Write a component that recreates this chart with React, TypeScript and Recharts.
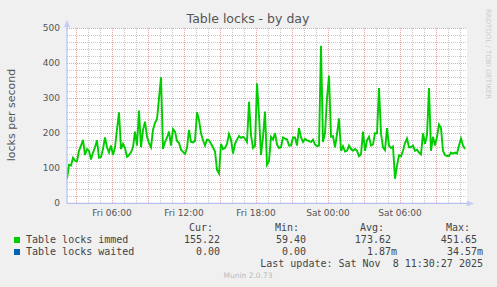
import React from "react";
import { LineChart, Line, XAxis, YAxis, CartesianGrid, ReferenceLine } from "recharts";

// samples every 10 minutes starting Fri 02:15
const STEP_MIN = 10;

const immed = [
  70, 110, 108, 130, 122, 120, 150, 165, 181, 138,
  155, 150, 125, 145, 160, 180, 130, 132, 155, 188,
  160, 145, 165, 138, 160, 212, 260, 155, 170, 158,
  133, 138, 146, 160, 205, 165, 265, 160, 210, 233,
  190, 172, 160, 210, 230, 240, 300, 360, 155, 175,
  188, 205, 165, 212, 205, 178, 172, 153, 147, 141,
  158, 210, 175, 174, 178, 260, 238, 200, 180, 165,
  182, 180, 170, 160, 148, 95, 85, 170, 155, 158,
  170, 198, 182, 142, 170, 182, 192, 187, 190, 185,
  175, 290, 195, 158, 165, 343, 250, 138, 190, 262,
  110, 120, 190, 182, 200, 168, 158, 160, 188, 185,
  183, 165, 165, 188, 188, 165, 215, 188, 175, 184,
  180, 178, 175, 182, 168, 163, 165, 450, 175, 200,
  300, 365, 190, 192, 160, 198, 243, 150, 163, 148,
  150, 165, 155, 150, 155, 150, 135, 140, 205, 150,
  180, 190, 165, 168, 200, 200, 329, 200, 160, 152,
  215, 165, 158, 162, 70, 108, 137, 134, 150, 172,
  185, 160, 160, 165, 150, 153, 145, 140, 200, 170,
  195, 329, 150, 190, 165, 190, 225, 215, 150, 138,
  135, 135, 145, 142, 145, 142, 165, 185, 165, 155,
];

const xTicks = [225, 585, 945, 1305, 1665];
const xTickLabels = ["Fri 06:00", "Fri 12:00", "Fri 18:00", "Sat 00:00", "Sat 06:00"];
const yTicks = [0, 100, 200, 300, 400, 500];

const legendHeads = ["Cur:", "Min:", "Avg:", "Max:"];
const legendNames = ["Table locks immed", "Table locks waited"];
const legendColors = ["#00cc00", "#0066b3"];
const legendValues = [
  ["155.22", "59.40", "173.62 ", "451.65 "],
  ["0.00", "0.00", "1.87m", "34.57m"],
];

const data = immed.map((v, i) => ({ t: i * STEP_MIN, v }));

// grid: minor every hour / 20 units, major every 3 hours / 100 units
const minorX = Array.from({ length: 33 }, (_, k) => 45 + k * 60).filter((t) => (t - 45) % 180 !== 0);
const majorX = Array.from({ length: 11 }, (_, k) => 45 + k * 180);
const minorY = Array.from({ length: 25 }, (_, k) => 20 + k * 20).filter((v) => v % 100 !== 0);
const majorY = [100, 200, 300, 400, 500];

const mono = "'DejaVu Sans Mono', monospace";
const sans = "'DejaVu Sans', sans-serif";
const MAJOR = "#e8a4a4";
const MINOR = "#c8c8c8";

function Txt(props: {
  x: number;
  y: number;
  align?: "left" | "right" | "center";
  size: number;
  color: string;
  font: string;
  children: React.ReactNode;
}) {
  const { x, y, align = "left", size, color, font, children } = props;
  const tx = align === "right" ? "-100%" : align === "center" ? "-50%" : "0";
  return (
    <div
      style={{
        position: "absolute",
        left: x,
        top: y,
        transform: `translate(${tx}, -50%)`,
        fontFamily: font,
        fontSize: size,
        lineHeight: 1,
        color,
        whiteSpace: "pre",
      }}
    >
      {children}
    </div>
  );
}

export default function App() {
  const headX = [213, 299, 384, 470];
  const valX = [220, 306, 397, 483];
  const rowY = [239.5, 251.7];
  const gridLine = { strokeDasharray: "1 1", shapeRendering: "crispEdges" } as const;
  return (
    <div
      style={{
        position: "absolute",
        left: 0,
        top: 0,
        width: 497,
        height: 287,
        background: "#f0f0f0",
        overflow: "hidden",
      }}
    >
      <LineChart
        width={497}
        height={287}
        data={data}
        margin={{ top: 28.3, right: 30, bottom: 63.7, left: 17 }}
      >
        <CartesianGrid fill="#ffffff" horizontal={false} vertical={false} />
        {minorX.map((t) => (
          <ReferenceLine key={`mx${t}`} x={t} stroke={MINOR} {...gridLine} />
        ))}
        {minorY.map((v) => (
          <ReferenceLine key={`my${v}`} y={v} stroke={MINOR} {...gridLine} />
        ))}
        {majorX.map((t) => (
          <ReferenceLine key={`vx${t}`} x={t} stroke={MAJOR} {...gridLine} />
        ))}
        {majorY.map((v) => (
          <ReferenceLine key={`hy${v}`} y={v} stroke={MAJOR} {...gridLine} />
        ))}
        <XAxis
          dataKey="t"
          type="number"
          domain={[0, 2000]}
          ticks={xTicks}
          tickFormatter={(t: number) => xTickLabels[xTicks.indexOf(t)]}
          height={20}
          tickLine={false}
          tickSize={4}
          tickMargin={2}
          axisLine={{ stroke: "#a8b4ee", strokeWidth: 1 }}
          tick={{ fill: "#555", fontSize: 9, fontFamily: sans }}
          allowDataOverflow
        />
        <YAxis
          type="number"
          domain={[0, 500]}
          ticks={yTicks}
          width={50}
          tickLine={false}
          tickSize={5}
          tickMargin={2}
          axisLine={{ stroke: "#a8b4ee", strokeWidth: 1 }}
          tick={{ fill: "#555", fontSize: 9, fontFamily: sans }}
          allowDataOverflow
        />
        <Line
          type="linear"
          dataKey="v"
          stroke="#00cc00"
          strokeWidth={1.9}
          dot={false}
          isAnimationActive={false}
        />
      </LineChart>

      <svg
        width={497}
        height={287}
        style={{ position: "absolute", left: 0, top: 0, pointerEvents: "none" }}
      >
        <line x1={67} y1={22} x2={67} y2={29} stroke="#a8b4ee" />
        <polygon points="64,27 67,20 70,27" fill="#c4ccf4" />
        <line x1={466} y1={203.5} x2={472} y2={203.5} stroke="#a8b4ee" />
        <polygon points="467,200.5 474,203.5 467,206.5" fill="#c4ccf4" />
      </svg>

      <Txt x={248} y={19} align="center" size={12.5} color="#555" font={sans}>
        Table locks - by day
      </Txt>
      <div
        style={{
          position: "absolute",
          left: 11,
          top: 115,
          transform: "translate(-50%, -50%) rotate(-90deg)",
          fontFamily: sans,
          fontSize: 11,
          lineHeight: 1,
          color: "#555",
          whiteSpace: "pre",
        }}
      >
        locks per second
      </div>
      <div
        style={{
          position: "absolute",
          left: 487,
          top: 54,
          transform: "translate(-50%, -50%) rotate(90deg)",
          fontFamily: sans,
          fontSize: 7,
          lineHeight: 1,
          color: "#cccccc",
          whiteSpace: "pre",
        }}
      >
        RRDTOOL / TOBI OETIKER
      </div>

      {legendHeads.map((h, k) => (
        <Txt key={h} x={headX[k]} y={227.7} align="right" size={10} color="#444" font={mono}>
          {h}
        </Txt>
      ))}
      {legendNames.map((name, r) => (
        <React.Fragment key={name}>
          <div
            style={{
              position: "absolute",
              left: 14,
              top: rowY[r] - 3,
              width: 6,
              height: 6,
              background: legendColors[r],
            }}
          />
          <Txt x={26} y={rowY[r]} size={10} color="#444" font={mono}>
            {name}
          </Txt>
          {legendValues[r].map((val, k) => (
            <Txt key={k} x={valX[k]} y={rowY[r]} align="right" size={10} color="#444" font={mono}>
              {val}
            </Txt>
          ))}
        </React.Fragment>
      ))}
      <Txt x={483} y={263.5} align="right" size={10} color="#444" font={mono}>
        Last update: Sat Nov  8 11:30:27 2025
      </Txt>
      <Txt x={248} y={276} align="center" size={7.5} color="#bbbbbb" font={sans}>
        Munin 2.0.73
      </Txt>
    </div>
  );
}
